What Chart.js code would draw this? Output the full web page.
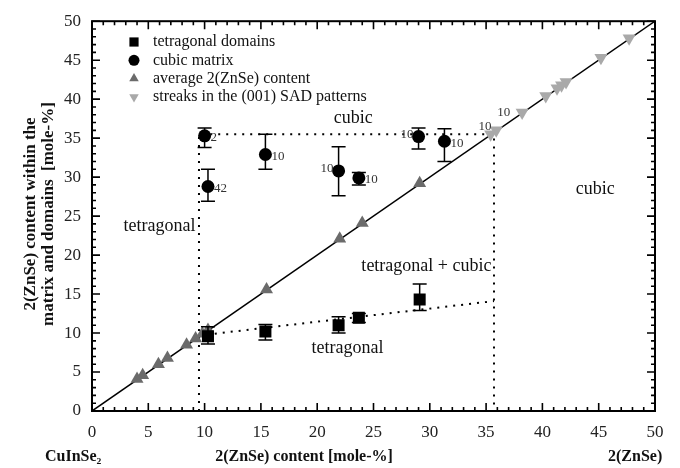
<!DOCTYPE html>
<html>
<head>
<meta charset="utf-8">
<script src="https://cdn.jsdelivr.net/npm/chart.js@4.4.1/dist/chart.umd.min.js"></script>
<style>
  html, body { margin: 0; padding: 0; background: #fff; }
  #wrap { width: 680px; height: 468px; position: relative; }
</style>
</head>
<body>
<div id="wrap"><canvas id="zincChart"></canvas></div>
<script>
// tetragonal domains (squares) with error range
const domainX  = [10.3, 15.4, 21.9, 23.7, 29.1];
const domainY  = [9.6, 10.2, 11.0, 11.95, 14.3];
const domainLo = [8.6, 9.1, 10.0, 11.35, 12.9];
const domainHi = [10.8, 11.1, 12.1, 12.5, 16.3];

// cubic matrix (circles) with error range and counts
const matrixX    = [10.0, 10.3, 15.4, 21.9, 23.7, 29.0, 31.3];
const matrixY    = [35.3, 28.8, 32.9, 30.8, 29.9, 35.2, 34.6];
const matrixLo   = [33.8, 26.9, 31.0, 27.6, 29.0, 33.6, 32.0];
const matrixHi   = [36.3, 31.0, 35.5, 33.9, 30.6, 36.3, 36.2];
const matrixNote = ['2', '42', '10', '10', '10', '10', '10'];

// average 2(ZnSe) content
const avgX = [4.0, 4.5, 5.9, 6.7, 8.4, 9.2, 9.8, 10.3, 15.5, 22.0, 24.0, 29.1];
const avgY = [4.1, 4.6, 6.0, 6.8, 8.5, 9.3, 9.9, 10.4, 15.6, 22.1, 24.1, 29.2];

// streaks in the (001) SAD patterns
const streakX    = [35.4, 35.9, 38.2, 40.3, 41.3, 41.7, 42.1, 45.2, 47.7];
const streakY    = [35.5, 36.0, 38.3, 40.4, 41.4, 41.8, 42.2, 45.3, 47.8];
const streakNote = ['10', '10', '', '', '', '', '', '', ''];

// phase boundaries
const diagX  = [0, 50];
const diagY  = [0, 50];
const leftBX = [9.5, 9.5, 35.7, 35.7];
const leftBY = [0, 35.5, 35.5, 0];
const lowBX  = [10.2, 35.7];
const lowBY  = [9.8, 14.1];

// axes
const axisMin = 0;
const axisMax = 50;
const tickStep = 5;

// region labels
const regionText = ['cubic', 'tetragonal', 'cubic', 'tetragonal + cubic', 'tetragonal'];
const regionX    = [23.2, 6.0, 44.7, 29.7, 22.7];
const regionY    = [37.5, 23.7, 28.4, 18.6, 8.0];

const serif = '"Liberation Serif", "DejaVu Serif", serif';

function pts(xs, ys) {
    return xs.map((x, i) => ({ x: x, y: ys[i] }));
}

// error bars, notes, frame ticks, legend, titles
const decorPlugin = {
    id: 'decor',
    afterDatasetsDraw(chart) {
        const ctx = chart.ctx;
        const xs = chart.scales.x;
        const ys = chart.scales.y;

        // error bars
        ctx.save();
        ctx.strokeStyle = '#000';
        ctx.lineWidth = 1.5;
        const bars = [[domainX, domainLo, domainHi], [matrixX, matrixLo, matrixHi]];
        bars.forEach(([bx, lo, hi]) => {
            bx.forEach((v, i) => {
                const px = xs.getPixelForValue(v);
                const p1 = ys.getPixelForValue(lo[i]);
                const p2 = ys.getPixelForValue(hi[i]);
                ctx.beginPath();
                ctx.moveTo(px, p1); ctx.lineTo(px, p2);
                ctx.moveTo(px - 7, p1); ctx.lineTo(px + 7, p1);
                ctx.moveTo(px - 7, p2); ctx.lineTo(px + 7, p2);
                ctx.stroke();
            });
        });
        ctx.restore();

        // counts next to points
        ctx.save();
        ctx.font = '13px ' + serif;
        ctx.fillStyle = '#333';
        ctx.textBaseline = 'middle';
        const leftSide = [false, false, false, true, false, true, false];
        matrixX.forEach((v, i) => {
            const px = xs.getPixelForValue(v);
            const py = ys.getPixelForValue(matrixY[i]);
            if (leftSide[i]) {
                ctx.textAlign = 'right';
                ctx.fillText(matrixNote[i], px - 5, py - 2);
            } else {
                ctx.textAlign = 'left';
                ctx.fillText(matrixNote[i], px + 6, py + 2);
            }
        });
        ctx.textAlign = 'left';
        streakX.forEach((v, i) => {
            if (!streakNote[i]) return;
            const px = xs.getPixelForValue(v);
            const py = ys.getPixelForValue(streakY[i]);
            if (i === 0) ctx.fillText(streakNote[i], px - 12, py - 8);
            else ctx.fillText(streakNote[i], px + 1, py - 18);
        });
        ctx.restore();

        // region labels
        ctx.save();
        ctx.font = '18px ' + serif;
        ctx.fillStyle = '#111';
        ctx.textAlign = 'center';
        ctx.textBaseline = 'middle';
        regionText.forEach((t, i) => {
            ctx.fillText(t, xs.getPixelForValue(regionX[i]), ys.getPixelForValue(regionY[i]));
        });
        ctx.restore();
    },
    afterDraw(chart) {
        const ctx = chart.ctx;
        const xs = chart.scales.x;
        const ys = chart.scales.y;
        const a = chart.chartArea;

        // frame with inward ticks on all four sides
        ctx.save();
        ctx.strokeStyle = '#000';
        ctx.lineWidth = 2;
        ctx.strokeRect(a.left, a.top, a.right - a.left, a.bottom - a.top);
        ctx.lineWidth = 1.6;
        ctx.beginPath();
        for (let v = axisMin; v <= axisMax; v++) {
            const len = v % tickStep === 0 ? 8 : 4;
            const px = xs.getPixelForValue(v);
            ctx.moveTo(px, a.bottom); ctx.lineTo(px, a.bottom - len);
            ctx.moveTo(px, a.top); ctx.lineTo(px, a.top + len);
            const py = ys.getPixelForValue(v);
            ctx.moveTo(a.left, py); ctx.lineTo(a.left + len, py);
            ctx.moveTo(a.right, py); ctx.lineTo(a.right - len, py);
        }
        ctx.stroke();
        ctx.restore();

        // legend
        ctx.save();
        const rows = [
            ['tetragonal domains', 'rect', '#000', 0],
            ['cubic matrix', 'circle', '#000', 0],
            ['average 2(ZnSe) content', 'triangle', '#6b6b6b', 0],
            ['streaks in the (001) SAD patterns', 'triangle', '#a9a9a9', 180]
        ];
        ctx.font = '16px ' + serif;
        ctx.textBaseline = 'middle';
        ctx.textAlign = 'left';
        rows.forEach((r, i) => {
            const y = 42 + i * 18.3;
            ctx.fillStyle = r[2];
            ctx.strokeStyle = r[2];
            Chart.helpers.drawPoint(ctx, { pointStyle: r[1], radius: r[1] === 'rect' ? 6.5 : 5.5, rotation: r[3], borderWidth: 0 }, 134, y);
            ctx.fillStyle = '#111';
            ctx.fillText(r[0], 153, y);
        });
        ctx.restore();

        // axis titles
        ctx.save();
        ctx.fillStyle = '#111';
        ctx.font = 'bold 16px ' + serif;
        ctx.textBaseline = 'middle';
        ctx.textAlign = 'center';
        ctx.fillText('2(ZnSe) content [mole-%]', 304, 457);
        ctx.textAlign = 'left';
        ctx.fillText('CuInSe\u2082', 45, 457);
        ctx.fillText('2(ZnSe)', 608, 457);
        ctx.save();
        ctx.font = 'bold 17px ' + serif;
        ctx.translate(31, 214);
        ctx.rotate(-Math.PI / 2);
        ctx.textAlign = 'center';
        ctx.fillText('2(ZnSe) content within the', 0, 0);
        ctx.fillText('matrix and domains  [mole-%]', 0, 18);
        ctx.restore();
        ctx.restore();
    }
};

const ctx = document.getElementById('zincChart').getContext('2d');

const zincChart = new Chart(ctx, {
    type: 'scatter',
    data: {
        datasets: [
            {
                label: 'tetragonal domains',
                data: pts(domainX, domainY),
                pointStyle: 'rect',
                pointRadius: 8.5,
                backgroundColor: '#000',
                borderColor: '#000',
                borderWidth: 0
            },
            {
                label: 'cubic matrix',
                data: pts(matrixX, matrixY),
                pointStyle: 'circle',
                pointRadius: 6.5,
                backgroundColor: '#000',
                borderColor: '#000',
                borderWidth: 0
            },
            {
                label: 'average 2(ZnSe) content',
                data: pts(avgX, avgY),
                pointStyle: 'triangle',
                pointRadius: 7.5,
                backgroundColor: '#6b6b6b',
                borderColor: '#6b6b6b',
                borderWidth: 0
            },
            {
                label: 'streaks in the (001) SAD patterns',
                data: pts(streakX, streakY),
                pointStyle: 'triangle',
                rotation: 180,
                pointRadius: 7.5,
                backgroundColor: '#a9a9a9',
                borderColor: '#a9a9a9',
                borderWidth: 0
            },
            {
                label: 'diagonal',
                data: pts(diagX, diagY),
                showLine: true,
                pointRadius: 0,
                borderColor: '#000',
                borderWidth: 1.5
            },
            {
                label: 'boundary',
                data: pts(leftBX, leftBY),
                showLine: true,
                pointRadius: 0,
                borderColor: '#000',
                borderWidth: 2,
                borderDash: [2, 6]
            },
            {
                label: 'lower boundary',
                data: pts(lowBX, lowBY),
                showLine: true,
                pointRadius: 0,
                borderColor: '#000',
                borderWidth: 2,
                borderDash: [2, 6]
            }
        ]
    },
    options: {
        responsive: true,
        maintainAspectRatio: false,
        animation: false,
        layout: {
            padding: { top: 19, right: 25, left: 0, bottom: 0 }
        },
        plugins: {
            legend: { display: false },
            tooltip: { enabled: false }
        },
        scales: {
            x: {
                type: 'linear',
                min: axisMin,
                max: axisMax,
                grid: { display: false, drawTicks: false },
                border: { display: false },
                ticks: {
                    stepSize: tickStep,
                    padding: 11,
                    color: '#222',
                    font: { family: serif, size: 17 }
                },
                afterFit: function(scale) { scale.height = 57; }
            },
            y: {
                type: 'linear',
                min: axisMin,
                max: axisMax,
                grid: { display: false, drawTicks: false },
                border: { display: false },
                ticks: {
                    stepSize: tickStep,
                    padding: 11,
                    color: '#222',
                    font: { family: serif, size: 17 }
                },
                afterFit: function(scale) { scale.width = 92; }
            }
        }
    },
    plugins: [decorPlugin]
});
</script>
</body>
</html>
